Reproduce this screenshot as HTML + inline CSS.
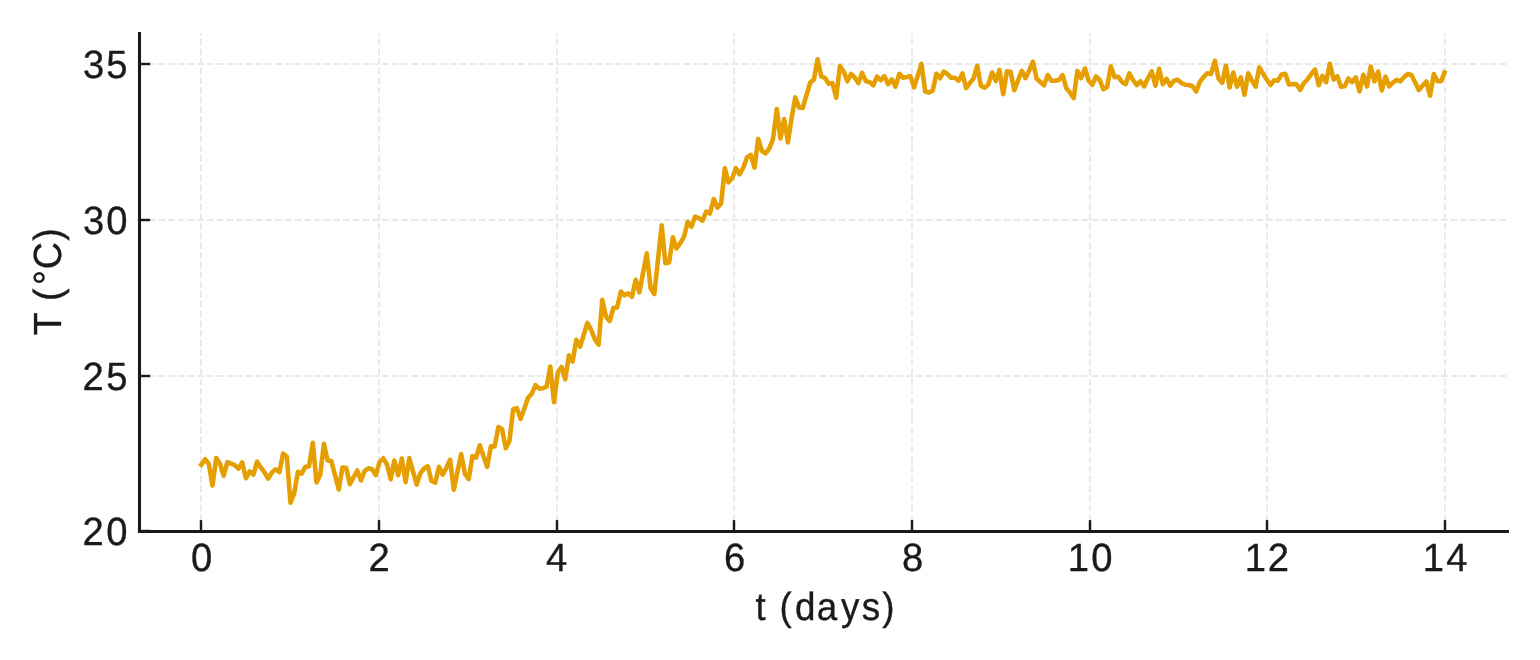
<!DOCTYPE html>
<html lang="en">
<head>
<meta charset="utf-8">
<title>T (°C) vs t (days)</title>
<style>
html,body{margin:0;padding:0;background:#fff;}
body{width:1540px;height:660px;overflow:hidden;font-family:"Liberation Sans",sans-serif;}
svg{display:block;}
text{filter:grayscale(1);text-rendering:geometricPrecision;stroke:#1a1a1a;stroke-width:0.35px;stroke-linejoin:round;font-family:"Liberation Sans",sans-serif;fill:#1a1a1a;}
</style>
</head>
<body>
<svg width="1540" height="660" viewBox="0 0 1540 660">
<rect x="0" y="0" width="1540" height="660" fill="#ffffff"/>
<g fill="none" stroke="#e9e9e9" stroke-width="1.83" stroke-dasharray="6.783 2.933">
<path d="M201.0 531.0V32.8"/>
<path d="M379.0 531.0V32.8"/>
<path d="M557.0 531.0V32.8"/>
<path d="M734.0 531.0V32.8"/>
<path d="M912.0 531.0V32.8"/>
<path d="M1090.0 531.0V32.8"/>
<path d="M1267.0 531.0V32.8"/>
<path d="M1445.0 531.0V32.8"/>
<path d="M139.0 531.5H1507.0"/>
<path d="M139.0 376H1507.0"/>
<path d="M139.0 220H1507.0"/>
<path d="M139.0 64H1507.0"/>
</g>
<polyline fill="none" stroke="#e69f00" stroke-width="4.58" stroke-linejoin="round" stroke-linecap="butt" points="199.9,466.6 205.1,459.2 208.8,464.2 212.5,485.5 216.2,458.1 220.0,463.8 223.7,475.7 227.4,462.1 231.1,463.7 234.8,465.1 238.5,468.7 242.2,462.4 245.9,478.3 249.7,471.5 253.4,474.6 257.1,461.7 260.8,467.4 264.5,472.4 268.2,478.7 271.9,472.5 275.6,469.3 279.4,472.2 283.1,453.5 286.8,456.8 290.5,502.7 294.2,493.5 297.9,471.8 301.6,473.7 305.3,466.8 309.0,466.5 312.8,442.8 316.5,482.4 320.2,475.0 323.9,443.8 327.6,460.5 331.3,461.0 335.0,475.2 338.7,489.5 342.5,467.5 346.2,468.0 349.9,484.2 353.6,477.3 357.3,470.5 361.0,480.5 364.7,470.8 368.4,468.3 372.2,469.5 375.9,475.2 379.6,461.8 383.3,458.3 387.0,464.5 390.7,479.2 394.4,460.5 398.1,475.2 401.8,458.5 405.6,482.2 409.3,458.1 413.0,471.3 416.7,484.6 420.4,473.1 424.1,468.5 427.8,466.3 431.5,481.0 435.3,482.7 439.0,466.8 442.7,474.7 446.4,467.8 450.1,459.8 453.8,489.7 457.5,471.5 461.2,454.1 465.0,474.0 468.7,479.2 472.4,456.1 476.1,457.7 479.8,445.3 483.5,456.3 487.2,466.9 490.9,446.4 494.6,446.4 498.4,427.0 502.1,429.2 505.8,448.2 509.5,440.8 513.2,409.2 516.9,408.2 520.6,419.0 524.3,408.7 528.1,397.8 531.8,393.7 535.5,385.2 539.2,388.7 542.9,388.2 546.6,386.7 550.3,366.5 554.0,402.3 557.8,372.5 561.5,367.0 565.2,379.3 568.9,355.3 572.6,361.5 576.3,339.8 580.0,346.8 583.7,335.0 587.4,322.9 591.2,330.0 594.9,339.3 598.6,344.6 602.3,299.7 606.0,316.7 609.7,321.0 613.4,308.0 617.1,307.5 620.9,291.5 624.6,295.3 628.3,293.3 632.0,296.8 635.7,279.8 639.4,292.3 643.1,272.5 646.8,253.4 650.6,288.3 654.3,294.0 658.0,259.5 661.7,225.3 665.4,263.3 669.1,262.5 672.8,237.3 676.5,248.5 680.2,243.3 684.0,236.7 687.7,222.0 691.4,226.8 695.1,216.5 698.8,218.0 702.5,220.7 706.2,211.5 709.9,213.5 713.7,199.0 717.4,207.7 721.1,203.5 724.8,168.2 728.5,182.3 732.2,178.3 735.9,168.2 739.6,174.3 743.4,167.5 747.1,157.2 750.8,154.8 754.5,167.6 758.2,138.9 761.9,150.8 765.6,153.5 769.3,148.3 773.0,139.2 776.8,109.0 780.5,138.5 784.2,119.0 787.9,142.5 791.6,118.0 795.3,97.4 799.0,107.5 802.7,108.0 806.5,95.0 810.2,82.5 813.9,79.5 817.6,59.2 821.3,76.3 825.0,78.0 828.7,83.7 832.4,83.0 836.2,97.7 839.9,66.0 843.6,71.3 847.3,81.3 851.0,74.0 854.7,77.5 858.4,83.0 862.1,72.8 865.8,81.2 869.6,82.0 873.3,85.2 877.0,76.7 880.7,80.2 884.4,76.1 888.1,84.2 891.8,79.3 895.5,86.7 899.3,73.8 903.0,77.7 906.7,77.0 910.4,76.2 914.1,87.4 917.8,75.6 921.5,63.8 925.2,91.5 929.0,92.5 932.7,90.5 936.4,73.8 940.1,78.2 943.8,71.6 947.5,74.0 951.2,77.8 954.9,77.8 958.6,80.7 962.4,73.5 966.1,88.2 969.8,83.2 973.5,78.5 977.2,65.8 980.9,85.8 984.6,87.7 988.3,84.5 992.1,72.5 995.8,81.2 999.5,69.8 1003.2,94.2 1006.9,71.4 1010.6,71.7 1014.3,90.2 1018.0,80.5 1021.8,70.8 1025.5,78.2 1029.2,70.5 1032.9,61.5 1036.6,78.5 1040.3,82.0 1044.0,85.2 1047.7,75.1 1051.4,80.7 1055.2,80.8 1058.9,80.0 1062.6,75.1 1066.3,88.2 1070.0,92.5 1073.7,98.2 1077.4,70.8 1081.1,78.2 1084.9,68.5 1088.6,80.5 1092.3,84.9 1096.0,76.5 1099.7,80.0 1103.4,89.2 1107.1,87.0 1110.8,66.3 1114.6,77.2 1118.3,76.8 1122.0,82.0 1125.7,84.2 1129.4,73.3 1133.1,80.0 1136.8,85.2 1140.5,81.3 1144.2,86.3 1148.0,78.0 1151.7,71.3 1155.4,85.7 1159.1,68.8 1162.8,84.2 1166.5,78.8 1170.2,85.7 1173.9,80.8 1177.7,79.8 1181.4,83.0 1185.1,84.7 1188.8,85.0 1192.5,86.2 1196.2,91.5 1199.9,81.8 1203.6,77.0 1207.4,73.2 1211.1,73.9 1214.8,60.8 1218.5,78.5 1222.2,82.7 1225.9,65.5 1229.6,87.4 1233.3,72.5 1237.0,86.7 1240.8,77.3 1244.5,94.7 1248.2,73.3 1251.9,80.5 1255.6,86.7 1259.3,67.3 1263.0,73.5 1266.7,79.5 1270.5,85.0 1274.2,80.2 1277.9,80.7 1281.6,74.4 1285.3,73.7 1289.0,84.5 1292.7,84.0 1296.4,84.3 1300.2,89.9 1303.9,83.2 1307.6,79.2 1311.3,74.0 1315.0,69.5 1318.7,85.2 1322.4,75.8 1326.1,82.2 1329.8,63.8 1333.6,79.5 1337.3,76.3 1341.0,86.7 1344.7,86.2 1348.4,78.5 1352.1,82.2 1355.8,77.3 1359.5,91.5 1363.3,74.8 1367.0,86.5 1370.7,66.6 1374.4,81.4 1378.1,71.5 1381.8,90.4 1385.5,76.6 1389.2,86.4 1393.0,82.5 1396.7,79.8 1400.4,81.4 1404.1,77.0 1407.8,74.1 1411.5,75.0 1415.2,82.5 1418.9,90.2 1422.6,85.5 1426.4,81.5 1430.1,95.7 1433.8,74.1 1437.5,81.2 1441.2,81.2 1445.3,70.4"/>
<g fill="none" stroke="#1a1a1a" stroke-width="2.44">
<path d="M201.0 531.5V520.1"/>
<path d="M379.0 531.5V520.1"/>
<path d="M557.0 531.5V520.1"/>
<path d="M734.0 531.5V520.1"/>
<path d="M912.0 531.5V520.1"/>
<path d="M1090.0 531.5V520.1"/>
<path d="M1267.0 531.5V520.1"/>
<path d="M1445.0 531.5V520.1"/>
<path d="M139.5 531H150.2"/>
<path d="M139.5 376H150.2"/>
<path d="M139.5 220H150.2"/>
<path d="M139.5 64H150.2"/>
</g>
<g fill="none" stroke="#1a1a1a" stroke-width="3.06" stroke-linecap="square">
<path d="M139.5 531.5V33.6"/>
<path d="M139.5 531.5H1507.4"/>
</g>
<text transform="translate(190.00 571.00) scale(0.9700 1)" x="1.06" y="0" font-size="39.4">0</text>
<text transform="translate(368.00 571.00) scale(0.9700 1)" x="0.56" y="0" font-size="39.4">2</text>
<text transform="translate(545.00 571.00) scale(0.9700 1)" x="1.06" y="0" font-size="39.4">4</text>
<text transform="translate(723.00 571.00) scale(0.9700 1)" x="1.06" y="0" font-size="39.4">6</text>
<text transform="translate(901.00 571.00) scale(0.9700 1)" x="1.06" y="0" font-size="39.4">8</text>
<text transform="translate(1067.00 571.00) scale(0.9700 1)" x="0.86 25.11" y="0" font-size="39.4">10</text>
<text transform="translate(1244.00 571.00) scale(0.9700 1)" x="0.86 24.61" y="0" font-size="39.4">12</text>
<text transform="translate(1422.00 571.00) scale(0.9700 1)" x="0.86 25.11" y="0" font-size="39.4">14</text>
<text transform="translate(82.00 545.00) scale(0.9700 1)" x="0.56 25.11" y="0" font-size="39.4">20</text>
<text transform="translate(82.00 390.00) scale(0.9700 1)" x="0.56 24.96" y="0" font-size="39.4">25</text>
<text transform="translate(82.00 234.00) scale(0.9700 1)" x="1.11 25.11" y="0" font-size="39.4">30</text>
<text transform="translate(82.00 78.00) scale(0.9700 1)" x="1.11 24.96" y="0" font-size="39.4">35</text>
<text transform="translate(753.40 620.20) scale(0.9388 1)" x="2.12 15.31 27.84 44.21 67.39 93.44 115.45 137.24" y="0" font-size="39.2">t (days)</text>
<text transform="translate(60.80 334.90) rotate(-90) scale(0.9600 1)" x="-0.30 23.33 35.41 52.09 68.44 98.05" y="0" font-size="39.2">T (°C)</text>
</svg>
</body>
</html>
